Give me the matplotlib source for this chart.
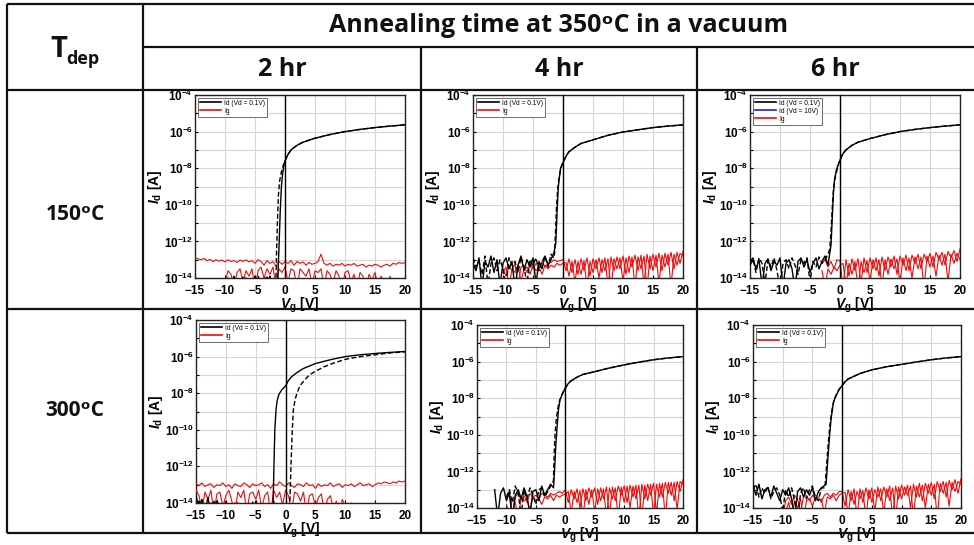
import numpy as np
import matplotlib
matplotlib.use("Agg")
import matplotlib.pyplot as plt
from matplotlib.lines import Line2D
from matplotlib.patches import Rectangle
from matplotlib.ticker import FixedLocator, FuncFormatter, NullFormatter

plt.rcParams['mathtext.fontset'] = 'custom'
plt.rcParams['mathtext.rm'] = 'Liberation Sans'
plt.rcParams['mathtext.bf'] = 'Liberation Sans:bold'
plt.rcParams['mathtext.it'] = 'Liberation Sans:italic:bold'
plt.rcParams['font.family'] = ['Liberation Sans', 'DejaVu Sans']

# ---------------------------------------------------------------- table text
anneal_title = 'Annealing time at 350\u1d52C in a vacuum'
anneal_times = ['2 hr', '4 hr', '6 hr']
dep_temps = ['150\u1d52C', '300\u1d52C']
row_header_main, row_header_sub = 'T', 'dep'

# ---------------------------------------------------------------- axes content
vg_ticks = [-15, -10, -5, 0, 5, 10, 15, 20]
id_decades = [-14, -12, -10, -8, -6, -4]
noise_step = 0.5   # gate-voltage step of the off-state / gate-leakage sweeps

# All currents below are log10(I / A).
# --- 150 C, 2 hr
p1_fwd_v = [-1.2, -1.0, -0.8, -0.6, -0.4, -0.2, 0, 0.5, 1, 2, 3, 5, 7.5, 10, 12.5, 15, 17.5, 20]
p1_fwd_i = [-14.0, -12.3, -10.4, -9.0, -8.3, -7.9, -7.6, -7.25, -7.0, -6.75, -6.58, -6.36, -6.16, -6.0, -5.88, -5.78, -5.7, -5.63]
p1_rev_v = [-1.5, -1.4, -1.25, -1.1, -0.9, -0.6, -0.3, 0, 0.5, 1, 2, 3, 5, 7.5, 10, 12.5, 15, 17.5, 20]
p1_rev_i = [-14.0, -12.5, -10.8, -9.5, -8.7, -8.2, -7.85, -7.6, -7.25, -7.0, -6.75, -6.58, -6.36, -6.16, -6.0, -5.88, -5.78, -5.7, -5.63]
p1_off_fwd = [-14.5, -14.3, -14.6, -14.4, -14.2, -14.5, -14.3, -14.6, -14.1, -14.4, -14.5, -14.0, -14.3, -13.9,
              -14.4, -14.2, -14.6, -14.0, -14.3, -14.5, -13.9, -14.2, -14.4, -14.1, -13.95, -14.3, -14.1]
p1_off_rev = [-14.4, -14.6, -14.2, -14.5, -14.3, -14.6, -14.1, -14.4, -14.2, -14.6, -14.3, -14.5, -14.0, -14.4,
              -14.2, -14.6, -13.95, -14.3, -14.5, -14.1, -14.4, -13.9, -14.2, -14.0, -14.3, -13.9, -14.2]
p1_ig_a = [-12.88, -12.95, -13.0, -12.93, -13.05, -12.98, -13.1, -13.0, -13.08, -13.02, -13.12, -13.0, -13.1,
           -13.05, -13.15, -13.02, -13.1, -13.0, -13.12, -13.05, -13.2, -13.0, -13.1, -13.3, -13.05, -13.2, -13.1,
           -13.35, -13.1, -13.25, -13.1, -13.2, -13.05, -13.3, -13.1, -13.2, -13.12, -13.3, -13.15, -13.25, -13.2,
           -13.1, -12.7, -13.2, -13.3, -13.2, -13.35, -13.25, -13.3, -13.2, -13.35, -13.25, -13.3, -13.2, -13.35,
           -13.3, -13.25, -13.4, -13.3, -13.35, -13.25, -13.3, -13.4, -13.3, -13.25, -13.35, -13.2, -13.25, -13.15,
           -13.2, -13.15]
p1_ig_b = [-14.3, -13.6, -13.8, -14.5, -13.7, -13.5, -14.2, -13.6, -13.9, -13.5, -14.6, -13.6, -13.4, -14.0,
           -13.5, -13.8, -13.4, -14.5, -13.5, -13.7, -13.4, -14.2, -13.5, -13.6, -14.6, -13.5, -13.7, -13.9, -13.5,
           -14.4, -13.6, -13.7, -13.5, -14.5, -13.6, -13.8, -14.3, -13.6, -13.9, -14.6, -13.7, -13.6, -14.2, -13.8,
           -14.5, -13.7, -13.9, -14.6, -13.8, -14.1, -13.7, -14.5, -13.9, -14.3, -14.6, -13.9, -14.5]

# --- 150 C, 4 hr
p2_fwd_v = [-1.2, -1.0, -0.8, -0.6, -0.4, -0.2, 0, 0.5, 1, 2, 3, 5, 7.5, 10, 12.5, 15, 17.5, 20]
p2_fwd_i = [-12.1, -10.5, -9.1, -8.5, -8.0, -7.85, -7.7, -7.35, -7.1, -6.85, -6.65, -6.45, -6.2, -6.02, -5.9, -5.78, -5.7, -5.63]
p2_rev_v = [-1.4, -1.25, -1.1, -0.9, -0.7, -0.4, -0.2, 0, 0.5, 1, 2, 3, 5, 7.5, 10, 12.5, 15, 17.5, 20]
p2_rev_i = [-12.6, -11.5, -10.2, -9.2, -8.6, -8.05, -7.85, -7.7, -7.35, -7.1, -6.85, -6.65, -6.45, -6.2, -6.02, -5.9, -5.78, -5.7, -5.63]
p2_off_fwd = [-13.2, -13.6, -12.9, -14.5, -13.1, -13.4, -12.8, -13.7, -13.0, -14.4, -13.2, -12.9, -13.5, -13.1,
              -14.6, -13.3, -12.8, -13.6, -13.0, -13.4, -12.9, -14.3, -13.1, -13.5, -12.8, -13.3, -13.0, -12.6]
p2_off_rev = [-12.9, -13.4, -13.1, -13.8, -12.8, -14.4, -13.2, -12.9, -13.6, -13.0, -13.5, -14.5, -12.9, -13.3,
              -13.1, -13.7, -12.85, -13.4, -14.3, -13.0, -13.3, -12.9, -13.6, -13.1, -12.8, -13.4, -12.7, -12.9]
p2_ig_a = [-13.5, -13.9, -13.3, -13.6, -13.2, -14.4, -13.4, -13.3, -13.7, -13.2, -13.5, -13.2, -13.4, -13.1,
           -13.4, -13.2, -13.15, -13.0, -13.1, -13.05, -13.0, -13.6, -12.95, -13.7, -13.0, -13.8, -12.95, -13.6,
           -12.9, -13.9, -12.95, -13.5, -12.9, -13.7, -12.9, -14.5, -12.85, -13.6, -12.85, -13.5, -12.8, -13.8,
           -12.8, -13.4, -12.75, -13.6, -12.75, -14.4, -12.7, -13.5, -12.7, -13.4, -12.65, -13.6, -12.65, -13.3,
           -12.6, -13.5, -12.6, -13.2, -12.55]
p2_ig_b = [-13.7, -13.4, -14.5, -13.5, -13.7, -13.3, -14.2, -13.5, -13.4, -13.8, -13.3, -13.6, -13.4, -13.8,
           -13.3, -13.5, -13.3, -13.4, -13.2, -13.3, -13.2, -13.15, -13.9, -13.1, -14.2, -13.1, -13.8, -13.05,
           -14.5, -13.1, -13.7, -13.0, -14.0, -13.0, -13.6, -12.95, -14.6, -12.95, -13.5, -12.9, -14.2, -12.9,
           -13.7, -12.85, -14.5, -12.85, -13.5, -12.8, -14.6, -12.8, -13.6, -12.75, -14.3, -12.75, -13.4, -12.7,
           -14.5, -12.7, -13.3, -12.65, -12.8]

# --- 150 C, 6 hr
p3_fwd_v = [-1.5, -1.3, -1.1, -0.9, -0.6, -0.3, 0, 0.5, 1, 2, 3, 5, 7.5, 10, 12.5, 15, 17.5, 20]
p3_fwd_i = [-12.2, -10.8, -9.4, -8.6, -8.1, -7.8, -7.55, -7.2, -7.0, -6.75, -6.58, -6.38, -6.17, -6.0, -5.88, -5.78, -5.7, -5.63]
p3_rev_v = [-1.7, -1.5, -1.3, -1.1, -0.8, -0.5, -0.2, 0, 0.5, 1, 2, 3, 5, 7.5, 10, 12.5, 15, 17.5, 20]
p3_rev_i = [-12.4, -11.5, -10.2, -9.2, -8.5, -8.1, -7.75, -7.55, -7.2, -7.0, -6.75, -6.58, -6.38, -6.17, -6.0, -5.88, -5.78, -5.7, -5.63]
p3_off_fwd = [-13.1, -12.9, -13.5, -13.0, -14.4, -13.2, -12.95, -13.6, -13.1, -13.3, -12.9, -14.5, -13.2, -13.0,
              -13.5, -14.6, -13.1, -12.9, -13.4, -13.0, -13.7, -13.2, -12.9, -13.5, -13.1, -12.8, -13.3]
p3_off_rev = [-13.3, -13.0, -13.7, -12.9, -13.2, -14.3, -13.0, -13.4, -12.9, -13.6, -14.6, -13.2, -13.0, -13.5,
              -12.9, -13.3, -13.8, -13.0, -13.2, -12.9, -14.2, -13.1, -13.4, -12.85, -13.2, -13.0, -12.7]
p3_ig_a = [-13.2, -13.0, -13.4, -13.1, -13.5, -13.0, -13.05, -14.5, -13.0, -13.9, -12.95, -13.6, -12.95, -14.3,
           -12.9, -13.7, -12.9, -13.5, -12.9, -13.9, -12.85, -13.6, -12.85, -13.4, -12.8, -13.8, -12.8, -13.3,
           -12.75, -13.6, -12.75, -13.2, -12.7, -13.5, -12.7, -13.1, -12.65, -13.4, -12.6, -13.0, -12.6, -13.3,
           -12.55, -12.9, -12.5, -13.1, -12.4]
p3_ig_b = [-13.6, -14.5, -13.5, -13.8, -13.4, -13.6, -13.3, -13.2, -14.4, -13.2, -13.8, -13.1, -14.6, -13.1,
           -13.7, -13.05, -14.2, -13.0, -13.6, -13.0, -14.5, -13.0, -13.8, -12.95, -13.5, -12.95, -14.3, -12.9,
           -13.6, -12.9, -14.0, -12.85, -13.5, -12.85, -14.6, -12.8, -13.4, -12.8, -13.9, -12.75, -13.3, -12.7,
           -14.2, -12.7, -13.2, -12.65, -13.0]

# --- 300 C, 2 hr
p4_fwd_v = [-2.1, -1.95, -1.8, -1.6, -1.4, -1.1, -0.7, -0.3, 0, 0.5, 1, 2, 3, 5, 7.5, 10, 12.5, 15, 17.5, 20]
p4_fwd_i = [-14.2, -12.0, -10.0, -8.9, -8.4, -8.05, -7.85, -7.7, -7.6, -7.3, -7.1, -6.85, -6.65, -6.38, -6.17, -6.0, -5.9, -5.83, -5.77, -5.72]
p4_rev_v = [0.7, 0.9, 1.1, 1.3, 1.6, 1.9, 2.4, 3.2, 4, 5, 6.5, 8, 10, 12.5, 15, 17.5, 20]
p4_rev_i = [-14.2, -12.0, -10.2, -8.9, -8.35, -8.0, -7.6, -7.27, -7.0, -6.8, -6.55, -6.36, -6.15, -6.0, -5.9, -5.8, -5.74]
p4_off_fwd = [-13.6, -14.3, -13.8, -14.5, -13.7, -14.6, -13.9, -14.4, -14.2, -14.6, -13.9, -14.3, -14.5, -14.0,
              -14.6, -14.2, -14.4, -14.5, -14.1, -14.6, -13.9, -14.3, -14.5, -14.2]
p4_off_rev = [-14.4, -13.9, -14.6, -14.2, -14.5, -14.0, -14.6, -13.8, -14.4, -14.6, -14.1, -14.5, -14.3, -14.6,
              -14.0, -14.4, -14.6, -14.2, -14.5, -13.95, -14.3, -14.6, -14.1, -14.4, -14.6, -14.2, -13.9, -14.5,
              -14.3, -14.6, -14.0, -14.4]
p4_ig_a = [-12.95, -13.05, -12.9, -13.1, -13.0, -12.95, -13.15, -13.0, -13.05, -12.9, -13.1, -13.0, -13.2, -12.95,
           -13.05, -13.1, -12.9, -13.0, -13.15, -12.95, -13.05, -13.0, -12.9, -13.1, -13.0, -13.2, -12.95, -13.05,
           -12.85, -13.0, -13.1, -12.9, -13.05, -13.15, -12.95, -13.0, -13.1, -12.9, -13.05, -13.0, -13.2, -12.95,
           -13.1, -13.0, -13.05, -12.9, -13.1, -13.0, -12.95, -13.15, -13.0, -13.05, -12.95, -13.1, -13.0, -12.9,
           -13.05, -13.0, -12.95, -13.1, -13.0, -12.9, -12.95, -12.85, -12.9, -12.95, -12.85, -12.9, -12.8, -12.85,
           -12.8]
p4_ig_b = [-13.3, -13.6, -14.4, -13.4, -13.8, -13.3, -14.6, -13.5, -13.4, -14.2, -13.6, -13.3, -13.9, -14.6,
           -13.4, -13.7, -13.3, -14.5, -13.5, -13.4, -13.8, -13.3, -14.3, -13.6, -13.4, -14.6, -13.3, -13.7, -13.4,
           -14.1, -13.3, -13.6, -14.5, -13.4, -13.5, -13.9, -13.4, -14.6, -13.6, -13.5, -14.2, -13.7, -13.5, -14.6,
           -13.8, -13.6, -14.3, -13.9, -14.6, -13.8, -14.2, -14.6, -14.0, -14.5, -14.6, -14.2, -14.6, -14.4, -14.6,
           -14.5, -14.6, -14.5, -14.6]

# --- 300 C, 4 hr
p5_fwd_v = [-1.75, -1.6, -1.4, -1.15, -0.9, -0.55, -0.25, 0, 0.5, 1, 2, 3, 5, 7.5, 10, 12.5, 15, 17.5, 20]
p5_fwd_i = [-11.5, -10.5, -9.6, -8.6, -8.1, -7.8, -7.6, -7.45, -7.2, -7.05, -6.85, -6.7, -6.55, -6.35, -6.18, -6.03, -5.9, -5.8, -5.73]
p5_rev_v = [-2.0, -1.9, -1.75, -1.55, -1.3, -1.0, -0.6, -0.25, 0, 0.5, 1, 2, 3, 5, 7.5, 10, 12.5, 15, 17.5, 20]
p5_rev_i = [-12.3, -11.2, -10.0, -9.2, -8.6, -8.15, -7.85, -7.6, -7.45, -7.2, -7.05, -6.85, -6.7, -6.55, -6.35, -6.18, -6.03, -5.9, -5.8, -5.73]
p5_off_fwd = [-13.0, -14.5, -13.2, -12.9, -13.6, -13.1, -14.6, -13.3, -13.0, -13.5, -12.9, -13.4, -14.3, -13.1,
              -13.0, -13.6, -12.8, -13.3, -13.0, -12.7, -12.9]
p5_off_rev = [-13.4, -13.0, -13.7, -12.8, -13.2, -14.4, -13.0, -13.5, -12.9, -13.3, -13.8, -13.0, -12.9, -13.4,
              -13.1, -12.8, -12.5]
p5_ig_a = [-13.5, -13.3, -14.5, -13.4, -13.2, -13.6, -13.3, -13.7, -13.2, -13.4, -13.3, -13.5, -13.2, -13.3,
           -13.4, -13.2, -13.3, -13.2, -13.1, -13.2, -13.0, -13.7, -13.0, -13.5, -12.95, -14.0, -12.95, -13.6,
           -12.9, -13.4, -12.9, -13.8, -12.9, -13.5, -12.85, -14.5, -12.85, -13.6, -12.8, -13.3, -12.8, -13.7,
           -12.75, -13.4, -12.75, -14.6, -12.7, -13.5, -12.7, -13.3, -12.65, -14.3, -12.65, -13.4, -12.6, -13.2,
           -12.6, -13.6, -12.55, -13.1, -12.45]
p5_ig_b = [-13.8, -14.4, -13.5, -13.7, -14.6, -13.4, -13.6, -13.5, -14.2, -13.4, -13.6, -13.5, -13.8, -13.4,
           -13.5, -13.3, -13.6, -13.3, -13.4, -13.3, -13.25, -13.1, -14.3, -13.1, -13.7, -13.05, -14.6, -13.0,
           -13.8, -13.0, -14.2, -12.95, -13.6, -12.95, -14.5, -12.9, -13.5, -12.9, -14.6, -12.85, -13.7, -12.8,
           -14.0, -12.8, -13.5, -12.75, -14.6, -12.75, -13.6, -12.7, -14.4, -12.7, -13.4, -12.65, -14.6, -12.6,
           -13.3, -12.6, -14.1, -12.55, -12.7]

# --- 300 C, 6 hr
p6_fwd_v = [-2.7, -2.4, -2.1, -1.85, -1.45, -1.0, -0.45, 0, 0.5, 1, 2, 3, 5, 7.5, 10, 12.5, 15, 17.5, 20]
p6_fwd_i = [-12.7, -11.3, -10.0, -9.1, -8.2, -7.85, -7.5, -7.3, -7.1, -6.95, -6.8, -6.65, -6.45, -6.28, -6.15, -6.02, -5.9, -5.8, -5.73]
p6_rev_v = [-2.9, -2.6, -2.3, -2.0, -1.6, -1.2, -0.6, 0, 0.5, 1, 2, 3, 5, 7.5, 10, 12.5, 15, 17.5, 20]
p6_rev_i = [-12.9, -11.6, -10.3, -9.3, -8.4, -7.95, -7.55, -7.3, -7.1, -6.95, -6.8, -6.65, -6.45, -6.28, -6.15, -6.02, -5.9, -5.8, -5.73]
p6_off_fwd = [-12.8, -13.3, -12.7, -13.5, -13.0, -12.9, -13.4, -12.8, -13.2, -13.6, -13.0, -13.3, -12.9, -13.5,
              -14.6, -13.1, -12.9, -13.4, -13.0, -13.3, -12.9, -13.6, -13.1, -12.9]
p6_off_rev = [-13.0, -12.7, -13.4, -12.9, -13.2, -12.8, -13.5, -13.1, -12.9, -13.3, -14.2, -13.0, -13.4, -12.9,
              -13.6, -14.6, -13.2, -12.9, -13.5, -13.0, -12.8, -13.4, -13.6, -12.9]
p6_ig_a = [-14.5, -13.6, -13.4, -13.8, -13.3, -13.5, -14.2, -13.4, -13.3, -13.6, -13.3, -13.5, -13.4, -13.7,
           -13.3, -13.2, -13.4, -13.2, -13.3, -13.1, -13.1, -13.9, -13.0, -13.6, -12.95, -14.5, -12.95, -13.7,
           -12.9, -13.5, -12.9, -14.2, -12.85, -13.6, -12.85, -13.4, -12.8, -14.6, -12.8, -13.5, -12.75, -13.3,
           -12.75, -14.0, -12.7, -13.4, -12.65, -13.6, -12.65, -13.2, -12.6, -13.5, -12.55, -13.1, -12.55, -13.4,
           -12.5, -13.0, -12.45, -13.2, -12.4]
p6_ig_b = [-14.6, -14.2, -13.7, -14.5, -13.6, -14.0, -13.5, -14.6, -13.6, -13.5, -13.9, -13.4, -13.6, -13.5,
           -14.3, -13.4, -13.5, -13.3, -13.6, -13.3, -13.2, -13.15, -14.4, -13.1, -13.8, -13.1, -13.5, -13.05,
           -14.6, -13.0, -13.7, -13.0, -13.4, -12.95, -14.3, -12.95, -13.6, -12.9, -14.6, -12.85, -13.5, -12.85,
           -13.3, -12.8, -14.5, -12.8, -13.4, -12.75, -14.0, -12.7, -13.3, -12.7, -14.6, -12.65, -13.2, -12.6,
           -13.9, -12.6, -13.1, -12.55, -12.7]

# Panel layout in figure pixels: (left, top, right, bottom)
W, H = 974, 545
panels = [
    dict(box=(195, 95, 405, 278), fwd=(p1_fwd_v, p1_fwd_i), rev=(p1_rev_v, p1_rev_i),
         off_fwd=(-15, p1_off_fwd), off_rev=(-15, p1_off_rev), ig=[(-15, p1_ig_a), (-10, p1_ig_b)], blue=False),
    dict(box=(473, 95, 683, 278), fwd=(p2_fwd_v, p2_fwd_i), rev=(p2_rev_v, p2_rev_i),
         off_fwd=(-15, p2_off_fwd), off_rev=(-15, p2_off_rev), ig=[(-10, p2_ig_a), (-10, p2_ig_b)], blue=False),
    dict(box=(750, 95, 960, 278), fwd=(p3_fwd_v, p3_fwd_i), rev=(p3_rev_v, p3_rev_i),
         off_fwd=(-15, p3_off_fwd), off_rev=(-15, p3_off_rev), ig=[(-3, p3_ig_a), (-3, p3_ig_b)], blue=True),
    dict(box=(196, 320, 405, 503), fwd=(p4_fwd_v, p4_fwd_i), rev=(p4_rev_v, p4_rev_i),
         off_fwd=(-15, p4_off_fwd), off_rev=(-15, p4_off_rev), ig=[(-15, p4_ig_a), (-15, p4_ig_b)], blue=False),
    dict(box=(477, 325, 683, 508), fwd=(p5_fwd_v, p5_fwd_i), rev=(p5_rev_v, p5_rev_i),
         off_fwd=(-12, p5_off_fwd), off_rev=(-10, p5_off_rev), ig=[(-10, p5_ig_a), (-10, p5_ig_b)], blue=False),
    dict(box=(753, 325, 961, 508), fwd=(p6_fwd_v, p6_fwd_i), rev=(p6_rev_v, p6_rev_i),
         off_fwd=(-15, p6_off_fwd), off_rev=(-15, p6_off_rev), ig=[(-10, p6_ig_a), (-10, p6_ig_b)], blue=False),
]


def sweep(start, vals):
    v = np.asarray(vals, float)
    return start + noise_step * np.arange(v.size), v


def id_curve(off, on):
    xo, yo = sweep(*off)
    x = np.concatenate([xo, np.asarray(on[0], float)])
    y = np.concatenate([yo, np.asarray(on[1], float)])
    return x, 10.0 ** y


fig = plt.figure(figsize=(W / 100, H / 100), dpi=100)
red = '#f00a0a'

for p in panels:
    l, t, r, b = p['box']
    ax = fig.add_axes([l / W, 1 - b / H, (r - l) / W, (b - t) / H])
    ax.set_yscale('log')
    ax.set_xlim(-15, 20)
    ax.set_ylim(1e-14, 1e-4)

    for start, vals in p['ig']:
        x, y = sweep(start, vals)
        ax.plot(x, 10.0 ** y, color=red, lw=0.8, zorder=3)
    x, y = id_curve(p['off_rev'], p['rev'])
    ax.plot(x, y, color='black', lw=1.0, ls=(0, (3.5, 1.8)), zorder=4)
    x, y = id_curve(p['off_fwd'], p['fwd'])
    ax.plot(x, y, color='black', lw=1.0, zorder=5)
    ax.axvline(0, color='black', lw=1.0, zorder=6)

    ax.set_xticks(vg_ticks)
    ax.yaxis.set_major_locator(FixedLocator([10.0 ** k for k in id_decades]))
    ax.yaxis.set_minor_locator(FixedLocator([10.0 ** (k + 1) for k in id_decades[:-1]]))
    ax.yaxis.set_minor_formatter(NullFormatter())
    ax.yaxis.set_major_formatter(FuncFormatter(
        lambda v, _: r'$\mathbf{10^{%d}}$' % int(round(np.log10(v)))))
    ax.grid(True, which='both', color='#d6d6d6', lw=0.8, zorder=0)
    ax.set_axisbelow(True)
    ax.tick_params(which='both', direction='in', length=2.5, width=0.8, labelsize=8.5)
    ax.tick_params(axis='x', pad=5)
    ax.tick_params(axis='y', pad=1.5)
    for lab in ax.get_xticklabels():
        lab.set_fontweight('bold')
    for s in ax.spines.values():
        s.set_color('#222222')
        s.set_linewidth(1.0)

    ax.set_ylabel(r'$I_{\mathbf{d}}$ [A]', fontsize=10, fontweight='bold', labelpad=0)
    ax.set_xlabel(r'$V_{\mathbf{g}}$ [V]', fontsize=10, fontweight='bold', labelpad=-1)

    handles = [Line2D([], [], color='black', lw=1.2)]
    labels = ['Id (Vd = 0.1V)']
    if p['blue']:
        handles.append(Line2D([], [], color='#1f1fd0', lw=1.2))
        labels.append('Id (Vd = 10V)')
    handles.append(Line2D([], [], color=red, lw=1.2))
    labels.append('Ig')
    leg = ax.legend(handles, labels, loc='upper left', fontsize=4.8, frameon=True,
                    fancybox=False, edgecolor='#555555', framealpha=1,
                    borderpad=0.3, handlelength=3.2, handletextpad=0.5,
                    labelspacing=0.15, borderaxespad=0.4)
    leg.get_frame().set_linewidth(0.6)
    leg.set_zorder(10)

# ---------------------------------------------------------------- table grid
ov = fig.add_axes([0, 0, 1, 1], zorder=20)
ov.set_xlim(0, W)
ov.set_ylim(H, 0)
ov.axis('off')
ov.patch.set_alpha(0)
ov.add_patch(Rectangle((0, 0), W, 89, facecolor='white', edgecolor='none', zorder=1))

lw_tab = 1.6
c_tab = '#111111'
x_left, x_c0, x_c1, x_c2, x_right = 7, 143, 421, 697, W
y_top, y_mid, y_head, y_row, y_bot = 4, 47, 90, 309, 533
for y, x0 in [(y_top, x_left), (y_mid, x_c0), (y_head, x_left), (y_row, x_left), (y_bot, x_left)]:
    ov.plot([x0, x_right], [y, y], color=c_tab, lw=lw_tab, solid_capstyle='butt', zorder=3)
for x, y0 in [(x_left, y_top), (x_c0, y_top), (x_c1, y_mid), (x_c2, y_mid)]:
    ov.plot([x, x], [y0, y_bot], color=c_tab, lw=lw_tab, solid_capstyle='butt', zorder=3)

head_font = dict(family=['Open Sans', 'DejaVu Sans'], weight='bold', color='#111111')
ov.text((x_c0 + x_right) / 2, 26, anneal_title, ha='center', va='center', fontsize=18, zorder=4, **head_font)
for cx, txt in zip([(x_c0 + x_c1) / 2, (x_c1 + x_c2) / 2, (x_c2 + x_right) / 2], anneal_times):
    ov.text(cx, 70, txt, ha='center', va='center', fontsize=18, zorder=4, **head_font)
ov.text(67, 57, row_header_main, ha='right', va='baseline', fontsize=21, zorder=4, **head_font)
ov.text(66, 64, row_header_sub, ha='left', va='baseline', fontsize=13, zorder=4, **head_font)
for cy, txt in zip([214, 410], dep_temps):
    ov.text((x_left + x_c0) / 2, cy, txt, ha='center', va='center', fontsize=15, zorder=4, **head_font)

fig.savefig('out.png', dpi=100, facecolor='white')
